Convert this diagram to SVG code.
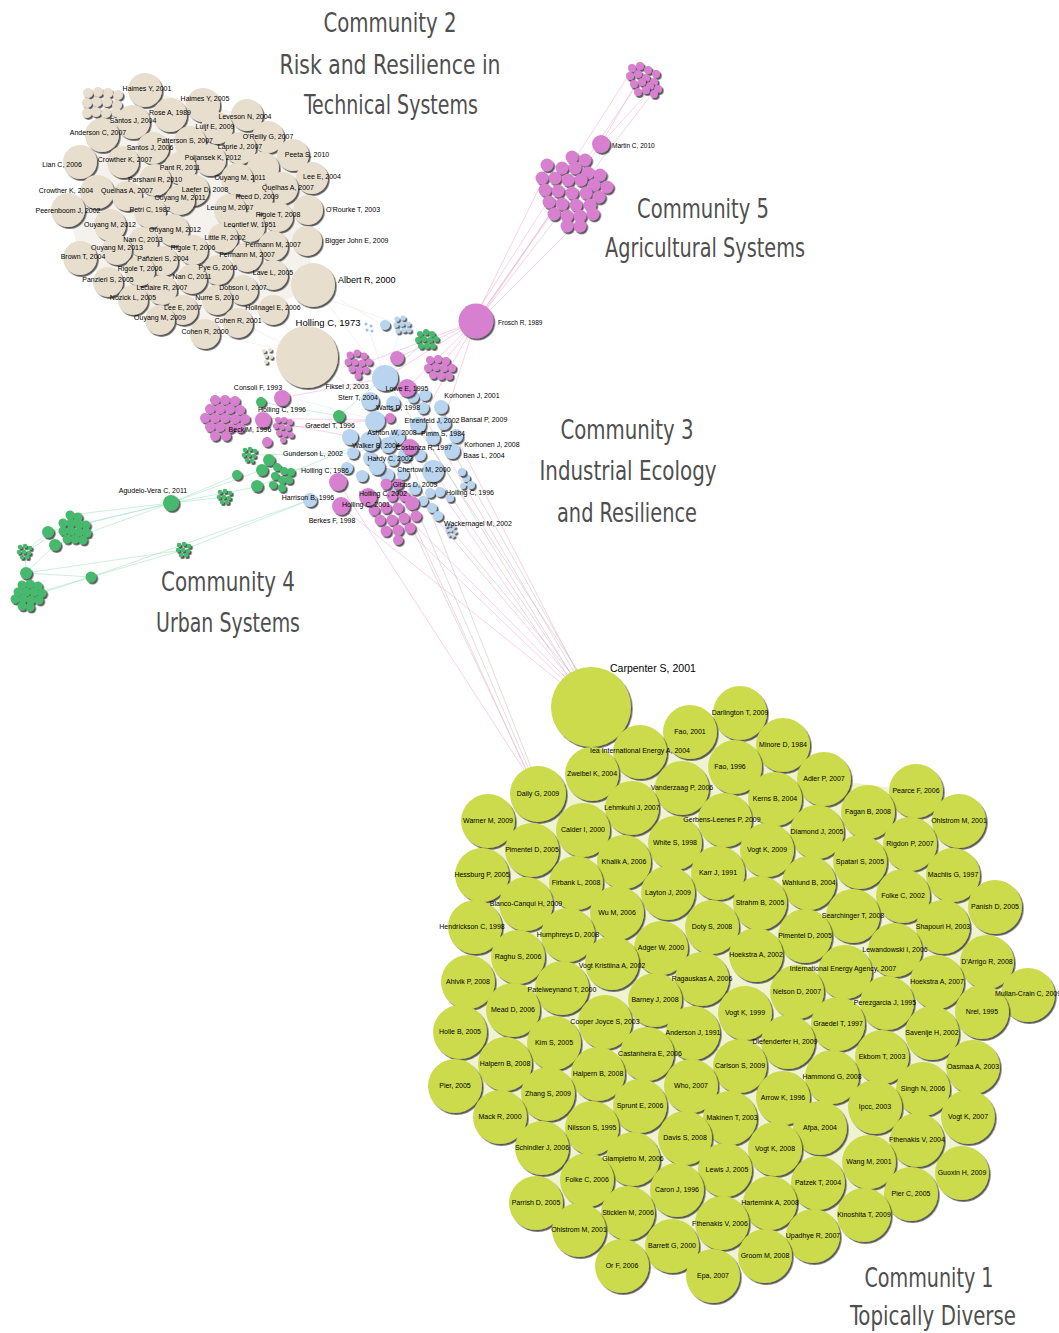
<svg xmlns="http://www.w3.org/2000/svg" width="1059" height="1333" viewBox="0 0 1059 1333">
<defs>
<filter id="sh" x="-30%" y="-30%" width="170%" height="170%"><feDropShadow dx="1.6" dy="1.8" stdDeviation="0.7" flood-color="#3a3a3a" flood-opacity="0.85"/></filter>
<style>
.b{fill:#e8dece;filter:url(#sh)}
.g1{fill:#cbdb4b;filter:url(#sh)}
.bl{fill:#b8d4ef;filter:url(#sh)}
.pk{fill:#d680cf;filter:url(#sh)}
.gr{fill:#47b96e;filter:url(#sh)}
.t{font-family:"Liberation Sans",Arial,sans-serif;font-size:7px;fill:#000;text-anchor:middle}
.tl{font-family:"Liberation Sans",Arial,sans-serif;font-size:7px;fill:#000}
.ti{font-family:"DejaVu Sans Condensed","Liberation Sans Narrow","Open Sans",sans-serif;font-size:27px;fill:#4f4f4f;text-anchor:middle}
.e1{stroke:#eeaad4;stroke-width:0.7;opacity:0.75;fill:none}
.e2{stroke:#c4bcb4;stroke-width:0.7;opacity:0.7;fill:none}
.e3{stroke:#9fe0bd;stroke-width:0.7;opacity:0.75;fill:none}
.e4{stroke:#d9d2c8;stroke-width:0.6;opacity:0.5;fill:none}
.e5{stroke:#c7dcf3;stroke-width:0.6;opacity:0.6;fill:none}
</style>
</defs>
<rect width="1059" height="1333" fill="#ffffff"/>

<!-- faint background webs between packed circles -->
<path d="M145,90 L203,105 L247,115 L268,137 L293,155 L312,178 L308,210 L307,241 L313,285 L273,308 L238,321 L205,334 L160,320 L133,300 L108,282 L80,258 L68,210 L97,192 L80,162 L102,135 L133,122 Z" fill="#f5f2ed"/>
<path d="M640,752 L690,732 L740,713 L783,745 L824,779 L916,791 L959,821 L953,875 L995,907 L987,962 L1028,995 L982,1012 L973,1067 L968,1117 L962,1173 L911,1194 L864,1215 L813,1236 L765,1256 L713,1276 L622,1266 L579,1230 L536,1203 L542,1148 L500,1117 L455,1086 L460,1032 L468,982 L475,927 L482,875 L488,821 L538,794 L592,774 Z" fill="#eff3d2"/>

<g id="edges">
<line class="e1" x1="410" y1="447" x2="575" y2="686"/>
<line class="e1" x1="433" y1="470" x2="578" y2="684"/>
<line class="e1" x1="373" y1="497" x2="572" y2="688"/>
<line class="e1" x1="340" y1="506" x2="570" y2="690"/>
<line class="e1" x1="407" y1="388" x2="580" y2="682"/>
<line class="e1" x1="455" y1="435" x2="582" y2="682"/>
<line class="e1" x1="398" y1="508" x2="574" y2="686"/>
<line class="e1" x1="420" y1="500" x2="576" y2="685"/>
<line class="e2" x1="385" y1="378" x2="584" y2="680"/>
<line class="e2" x1="418" y1="425" x2="577" y2="684"/>
<line class="e2" x1="452" y1="450" x2="583" y2="681"/>
<line class="e2" x1="433" y1="508" x2="579" y2="683"/>
<line class="e2" x1="400" y1="470" x2="530" y2="772"/>
<line class="e2" x1="393" y1="487" x2="528" y2="773"/>
<line class="e2" x1="410" y1="460" x2="532" y2="770"/>
<line class="e1" x1="404" y1="502" x2="527" y2="772"/>
<line class="e1" x1="338" y1="482" x2="526" y2="773"/>
<line class="e1" x1="476" y1="321" x2="601" y2="144"/>
<line class="e1" x1="480" y1="318" x2="640" y2="80"/>
<line class="e1" x1="473" y1="318" x2="632" y2="70"/>
<line class="e1" x1="478" y1="320" x2="655" y2="90"/>
<line class="e1" x1="476" y1="321" x2="560" y2="200"/>
<line class="e1" x1="478" y1="322" x2="590" y2="210"/>
<line class="e1" x1="474" y1="320" x2="548" y2="170"/>
<line class="e1" x1="601" y1="144" x2="638" y2="80"/>
<line class="e1" x1="601" y1="144" x2="650" y2="90"/>
<line class="e1" x1="476" y1="321" x2="385" y2="378"/>
<line class="e1" x1="476" y1="321" x2="397" y2="358"/>
<line class="e1" x1="476" y1="321" x2="418" y2="425"/>
<line class="e1" x1="476" y1="321" x2="440" y2="367"/>
<line class="e1" x1="476" y1="321" x2="407" y2="388"/>
<line class="e1" x1="476" y1="321" x2="443" y2="423"/>
<line class="e1" x1="476" y1="321" x2="360" y2="365"/>
<line class="e4" x1="307" y1="356" x2="313" y2="285"/>
<line class="e4" x1="307" y1="356" x2="273" y2="308"/>
<line class="e4" x1="307" y1="356" x2="238" y2="321"/>
<line class="e4" x1="307" y1="356" x2="205" y2="332"/>
<line class="e4" x1="313" y1="285" x2="385" y2="378"/>
<line class="e4" x1="307" y1="356" x2="385" y2="378"/>
<line class="e4" x1="307" y1="356" x2="370" y2="400"/>
<line class="e4" x1="313" y1="285" x2="273" y2="273"/>
<line class="e4" x1="313" y1="285" x2="307" y2="241"/>
<line class="e4" x1="340" y1="300" x2="385" y2="326"/>
<line class="e4" x1="330" y1="300" x2="402" y2="325"/>
<line class="e5" x1="385" y1="378" x2="402" y2="325"/>
<line class="e5" x1="385" y1="378" x2="368" y2="327"/>
<line class="e5" x1="375" y1="420" x2="300" y2="400"/>
<line class="e1" x1="263" y1="420" x2="370" y2="440"/>
<line class="e1" x1="282" y1="398" x2="385" y2="378"/>
<line class="e1" x1="240" y1="418" x2="370" y2="420"/>
<line class="e1" x1="283" y1="428" x2="375" y2="420"/>
<line class="e1" x1="357" y1="363" x2="385" y2="378"/>
<line class="e3" x1="339" y1="416" x2="427" y2="340"/>
<line class="e3" x1="261" y1="402" x2="339" y2="416"/>
<line class="e3" x1="256" y1="487" x2="370" y2="440"/>
<line class="e3" x1="262" y1="470" x2="347" y2="468"/>
<line class="e3" x1="250" y1="455" x2="353" y2="453"/>
<line class="e3" x1="171" y1="503" x2="80" y2="525"/>
<line class="e3" x1="171" y1="503" x2="70" y2="515"/>
<line class="e3" x1="171" y1="503" x2="55" y2="545"/>
<line class="e3" x1="171" y1="503" x2="48" y2="532"/>
<line class="e3" x1="171" y1="503" x2="225" y2="497"/>
<line class="e3" x1="171" y1="503" x2="256" y2="487"/>
<line class="e3" x1="171" y1="503" x2="237" y2="475"/>
<line class="e3" x1="171" y1="503" x2="262" y2="470"/>
<line class="e3" x1="25" y1="552" x2="48" y2="532"/>
<line class="e3" x1="26" y1="573" x2="25" y2="552"/>
<line class="e3" x1="26" y1="573" x2="91" y2="577"/>
<line class="e3" x1="30" y1="595" x2="91" y2="577"/>
<line class="e3" x1="20" y1="600" x2="91" y2="577"/>
<line class="e3" x1="91" y1="577" x2="183" y2="550"/>
<line class="e3" x1="183" y1="550" x2="310" y2="500"/>
<line class="e3" x1="91" y1="577" x2="310" y2="500"/>
<line class="e3" x1="26" y1="573" x2="183" y2="550"/>
<line class="e3" x1="26" y1="573" x2="60" y2="540"/>
<line class="e3" x1="25" y1="552" x2="70" y2="525"/>
</g>

<g id="nodes">
<!-- Community 2 -->
<g id="c2-smallcluster">
<circle class="b" cx="88" cy="93" r="5"/><circle class="b" cx="98" cy="92" r="5"/><circle class="b" cx="108" cy="93" r="5"/><circle class="b" cx="118" cy="95" r="5"/>
<circle class="b" cx="87" cy="103" r="5"/><circle class="b" cx="97" cy="102" r="5"/><circle class="b" cx="107" cy="102" r="5"/><circle class="b" cx="117" cy="105" r="5"/>
<circle class="b" cx="87" cy="113" r="5"/><circle class="b" cx="96" cy="112" r="5"/><circle class="b" cx="106" cy="113" r="5"/><circle class="b" cx="116" cy="112" r="5"/>
</g>
<g id="c2-haimes2001"><circle class="b" cx="145" cy="90" r="17"/></g>
<g id="c2-haimes2005"><circle class="b" cx="203" cy="105" r="17"/></g>
<g id="c2-leveson"><circle class="b" cx="247" cy="115" r="16"/></g>
<g id="c2-rose"><circle class="b" cx="170" cy="115" r="17"/></g>
<g id="c2-santos2004"><circle class="b" cx="133" cy="122" r="17"/></g>
<g id="c2-luijf"><circle class="b" cx="217" cy="128" r="16"/></g>
<g id="c2-anderson"><circle class="b" cx="102" cy="135" r="17"/></g>
<g id="c2-oreilly"><circle class="b" cx="268" cy="137" r="16"/></g>
<g id="c2-patterson"><circle class="b" cx="190" cy="142" r="16"/></g>
<g id="c2-laprie"><circle class="b" cx="240" cy="148" r="16"/></g>
<g id="c2-santos2006"><circle class="b" cx="153" cy="148" r="16"/></g>
<g id="c2-peeta"><circle class="b" cx="293" cy="155" r="16"/></g>
<g id="c2-fill1"><circle class="b" cx="263" cy="168" r="16"/></g>
<g id="c2-lian"><circle class="b" cx="80" cy="162" r="17"/></g>
<g id="c2-crowther2007"><circle class="b" cx="123" cy="162" r="16"/></g>
<g id="c2-poljansek"><circle class="b" cx="210" cy="160" r="16"/></g>
<g id="c2-pant"><circle class="b" cx="180" cy="168" r="16"/></g>
<g id="c2-leee2004"><circle class="b" cx="312" cy="178" r="16"/></g>
<g id="c2-ouyang2011a"><circle class="b" cx="237" cy="179" r="16"/></g>
<g id="c2-parshani"><circle class="b" cx="155" cy="180" r="16"/></g>
<g id="c2-quelhas2"><circle class="b" cx="282" cy="188" r="16"/></g>
<g id="c2-crowther2004"><circle class="b" cx="97" cy="192" r="17"/></g>
<g id="c2-quelhas1"><circle class="b" cx="127" cy="196" r="15"/></g>
<g id="c2-laefer"><circle class="b" cx="193" cy="190" r="16"/></g>
<g id="c2-ouyang2011b"><circle class="b" cx="180" cy="200" r="15"/></g>
<g id="c2-reed"><circle class="b" cx="257" cy="198" r="16"/></g>
<g id="c2-orourke"><circle class="b" cx="308" cy="210" r="15"/></g>
<g id="c2-peerenboom"><circle class="b" cx="68" cy="210" r="17"/></g>
<g id="c2-petri"><circle class="b" cx="150" cy="212" r="16"/></g>
<g id="c2-leung"><circle class="b" cx="230" cy="210" r="16"/></g>
<g id="c2-rigole2008"><circle class="b" cx="278" cy="217" r="15"/></g>
<g id="c2-ouyang2012a"><circle class="b" cx="110" cy="225" r="16"/></g>
<g id="c2-leontief"><circle class="b" cx="250" cy="227" r="15"/></g>
<g id="c2-ouyang2012b"><circle class="b" cx="173" cy="230" r="16"/></g>
<g id="c2-little"><circle class="b" cx="223" cy="238" r="15"/></g>
<g id="c2-nan2013"><circle class="b" cx="143" cy="242" r="15"/></g>
<g id="c2-bigger"><circle class="b" cx="307" cy="241" r="15"/></g>
<g id="c2-permann1"><circle class="b" cx="273" cy="246" r="15"/></g>
<g id="c2-ouyang2013"><circle class="b" cx="117" cy="250" r="15"/></g>
<g id="c2-rigole2006a"><circle class="b" cx="193" cy="250" r="15"/></g>
<g id="c2-brown"><circle class="b" cx="80" cy="258" r="17"/></g>
<g id="c2-permann2"><circle class="b" cx="247" cy="257" r="15"/></g>
<g id="c2-panzieri2004"><circle class="b" cx="163" cy="261" r="15"/></g>
<g id="c2-pye"><circle class="b" cx="218" cy="270" r="15"/></g>
<g id="c2-rigole2006b"><circle class="b" cx="140" cy="271" r="15"/></g>
<g id="c2-lave"><circle class="b" cx="273" cy="275" r="15"/></g>
<g id="c2-nan2011"><circle class="b" cx="192" cy="279" r="15"/></g>
<g id="c2-panzieri2005"><circle class="b" cx="108" cy="282" r="15"/></g>
<g id="c2-albert"><circle class="b" cx="313" cy="285" r="22"/></g>
<g id="c2-dobson"><circle class="b" cx="243" cy="290" r="15"/></g>
<g id="c2-leclaire"><circle class="b" cx="162" cy="290" r="15"/></g>
<g id="c2-nurre"><circle class="b" cx="217" cy="300" r="15"/></g>
<g id="c2-nozick"><circle class="b" cx="133" cy="300" r="15"/></g>
<g id="c2-hollnagel"><circle class="b" cx="273" cy="310" r="15"/></g>
<g id="c2-leee2007"><circle class="b" cx="183" cy="310" r="15"/></g>
<g id="c2-ouyang2009"><circle class="b" cx="160" cy="320" r="15"/></g>
<g id="c2-cohen2001"><circle class="b" cx="238" cy="323" r="15"/></g>
<g id="c2-cohen2000"><circle class="b" cx="205" cy="334" r="15"/></g>
<g id="c2-holling1973"><circle class="b" cx="307" cy="357" r="31"/></g>
<g id="c2-tinydots"><circle class="b" cx="264" cy="351" r="2"/><circle class="b" cx="270" cy="350" r="2"/><circle class="b" cx="266" cy="356" r="2"/><circle class="b" cx="271" cy="357" r="2"/><circle class="b" cx="266" cy="362" r="2"/></g>

<!-- Community 5 -->
<g id="c5-topcluster">
<circle class="pk" cx="632" cy="68" r="4"/><circle class="pk" cx="640" cy="66" r="4"/><circle class="pk" cx="648" cy="70" r="4"/><circle class="pk" cx="656" cy="74" r="4"/>
<circle class="pk" cx="630" cy="76" r="4"/><circle class="pk" cx="638" cy="74" r="4"/><circle class="pk" cx="646" cy="78" r="4"/><circle class="pk" cx="654" cy="82" r="4"/>
<circle class="pk" cx="634" cy="84" r="4"/><circle class="pk" cx="642" cy="82" r="4"/><circle class="pk" cx="650" cy="86" r="4"/><circle class="pk" cx="658" cy="89" r="4"/>
<circle class="pk" cx="638" cy="92" r="4"/><circle class="pk" cx="646" cy="90" r="4"/><circle class="pk" cx="654" cy="94" r="4"/>
</g>
<g id="c5-martin"><circle class="pk" cx="601" cy="144" r="9"/></g>
<g id="c5-cluster">
<circle class="pk" cx="572" cy="157" r="6.5"/><circle class="pk" cx="585" cy="160" r="6.5"/>
<circle class="pk" cx="547" cy="165" r="6.5"/><circle class="pk" cx="562" cy="168" r="6.5"/><circle class="pk" cx="575" cy="168" r="6.5"/><circle class="pk" cx="588" cy="173" r="6.5"/><circle class="pk" cx="600" cy="175" r="6.5"/>
<circle class="pk" cx="542" cy="178" r="6.5"/><circle class="pk" cx="555" cy="178" r="6.5"/><circle class="pk" cx="568" cy="180" r="6.5"/><circle class="pk" cx="581" cy="180" r="6.5"/><circle class="pk" cx="594" cy="185" r="6.5"/><circle class="pk" cx="607" cy="187" r="6.5"/>
<circle class="pk" cx="545" cy="190" r="6.5"/><circle class="pk" cx="558" cy="191" r="6.5"/><circle class="pk" cx="572" cy="193" r="6.5"/><circle class="pk" cx="586" cy="193" r="6.5"/><circle class="pk" cx="599" cy="197" r="6.5"/>
<circle class="pk" cx="549" cy="202" r="6.5"/><circle class="pk" cx="562" cy="204" r="6.5"/><circle class="pk" cx="576" cy="205" r="6.5"/><circle class="pk" cx="590" cy="205" r="6.5"/>
<circle class="pk" cx="554" cy="214" r="6.5"/><circle class="pk" cx="567" cy="216" r="6.5"/><circle class="pk" cx="580" cy="216" r="6.5"/><circle class="pk" cx="593" cy="214" r="6.5"/>
<circle class="pk" cx="567" cy="226" r="6.5"/><circle class="pk" cx="580" cy="226" r="6.5"/>
</g>
<g id="c5-frosch"><circle class="pk" cx="476" cy="321" r="17.5"/></g>

<!-- Community 3 area -->
<g id="c3-tinydots"><circle cx="366" cy="324" r="1.5" fill="#9cbfe6"/><circle cx="371" cy="326" r="1.5" fill="#9cbfe6"/><circle cx="367" cy="330" r="1.5" fill="#9cbfe6"/><circle cx="372" cy="331" r="1.5" fill="#9cbfe6"/></g>
<g id="c3-blue-a"><circle class="bl" cx="385" cy="325" r="5"/></g>
<g id="c3-bluecluster"><circle class="bl" cx="397" cy="319" r="2.6"/><circle class="bl" cx="403" cy="318" r="2.6"/><circle class="bl" cx="396" cy="325" r="2.6"/><circle class="bl" cx="402" cy="324" r="2.6"/><circle class="bl" cx="408" cy="324" r="2.6"/><circle class="bl" cx="398" cy="331" r="2.6"/><circle class="bl" cx="404" cy="330" r="2.6"/><circle class="bl" cx="409" cy="330" r="2.6"/></g>
<g id="c3-greencluster"><circle class="gr" cx="420" cy="334" r="3"/><circle class="gr" cx="426" cy="332" r="3"/><circle class="gr" cx="432" cy="334" r="3"/><circle class="gr" cx="418" cy="340" r="3"/><circle class="gr" cx="424" cy="339" r="3"/><circle class="gr" cx="430" cy="340" r="3"/><circle class="gr" cx="436" cy="339" r="3"/><circle class="gr" cx="421" cy="346" r="3"/><circle class="gr" cx="427" cy="346" r="3"/><circle class="gr" cx="433" cy="346" r="3"/></g>
<g id="c3-pinkcluster-a"><circle class="pk" cx="350" cy="355" r="3.5"/><circle class="pk" cx="357" cy="353" r="3.5"/><circle class="pk" cx="364" cy="356" r="3.5"/><circle class="pk" cx="348" cy="362" r="3.5"/><circle class="pk" cx="355" cy="362" r="3.5"/><circle class="pk" cx="362" cy="363" r="3.5"/><circle class="pk" cx="369" cy="362" r="3.5"/><circle class="pk" cx="352" cy="369" r="3.5"/><circle class="pk" cx="359" cy="370" r="3.5"/><circle class="pk" cx="366" cy="370" r="3.5"/><circle class="pk" cx="358" cy="376" r="3.5"/></g>
<g id="c3-pink-b"><circle class="pk" cx="397" cy="358" r="7"/></g>
<g id="c3-pinkcluster-c"><circle class="pk" cx="430" cy="360" r="4"/><circle class="pk" cx="438" cy="359" r="4"/><circle class="pk" cx="446" cy="361" r="4"/><circle class="pk" cx="428" cy="368" r="4"/><circle class="pk" cx="436" cy="367" r="4"/><circle class="pk" cx="444" cy="368" r="4"/><circle class="pk" cx="452" cy="368" r="4"/><circle class="pk" cx="433" cy="375" r="4"/><circle class="pk" cx="441" cy="376" r="4"/><circle class="pk" cx="449" cy="376" r="4"/></g>
<g id="c3-extra-blue">
<circle class="bl" cx="413" cy="397" r="6"/><circle class="bl" cx="425" cy="395" r="6"/><circle class="bl" cx="423" cy="408" r="6"/>
<circle class="bl" cx="433" cy="438" r="7"/><circle class="bl" cx="397" cy="437" r="8"/><circle class="bl" cx="350" cy="437" r="8"/>
<circle class="bl" cx="388" cy="445" r="8"/><circle class="bl" cx="405" cy="455" r="7"/><circle class="bl" cx="420" cy="455" r="6"/>
<circle class="bl" cx="393" cy="460" r="6"/><circle class="bl" cx="370" cy="458" r="7"/><circle class="bl" cx="347" cy="468" r="6"/>
<circle class="bl" cx="362" cy="476" r="6"/><circle class="bl" cx="387" cy="475" r="7"/><circle class="bl" cx="403" cy="474" r="6"/>
<circle class="bl" cx="393" cy="488" r="6"/><circle class="bl" cx="430" cy="493" r="5"/><circle class="bl" cx="440" cy="492" r="5"/>
<circle class="bl" cx="423" cy="501" r="5"/><circle class="bl" cx="432" cy="508" r="5"/><circle class="bl" cx="438" cy="516" r="5"/>
<circle class="bl" cx="466" cy="478" r="4"/><circle class="bl" cx="471" cy="485" r="4"/><circle class="bl" cx="463" cy="486" r="3"/>
</g>
<g id="c3-fiksel"><circle class="bl" cx="385" cy="378" r="13"/></g>
<g id="c3-lowe"><circle class="pk" cx="407" cy="388" r="9"/></g>
<g id="c3-sterr"><circle class="bl" cx="370" cy="401" r="9"/></g>
<g id="c3-watts"><circle class="bl" cx="393" cy="403" r="7"/></g>
<g id="c3-korhonen2001"><circle class="bl" cx="441" cy="407" r="7"/></g>
<g id="c3-pinksmall"><circle class="pk" cx="390" cy="418" r="5"/></g>
<g id="c3-ashton"><circle class="bl" cx="375" cy="421" r="10"/></g>
<g id="c3-ehrenfeld"><circle class="bl" cx="418" cy="425" r="8"/></g>
<g id="c3-pimm"><circle class="bl" cx="444" cy="423" r="7"/></g>
<g id="c3-bansal"><circle class="bl" cx="456" cy="436" r="7"/></g>
<g id="c3-walker"><circle class="bl" cx="370" cy="441" r="10"/></g>
<g id="c3-costanza"><circle class="pk" cx="410" cy="447" r="8"/></g>
<g id="c3-korhonen2008"><circle class="bl" cx="452" cy="451" r="8"/></g>
<g id="c3-gunderson"><circle class="bl" cx="353" cy="453" r="6"/></g>
<g id="c3-baas"><circle class="bl" cx="462" cy="472" r="4"/></g>
<g id="c3-hardy"><circle class="bl" cx="377" cy="467" r="8"/></g>
<g id="c3-chertow"><circle class="bl" cx="433" cy="471" r="11"/></g>
<g id="c3-holling1986"><circle class="pk" cx="338" cy="482" r="9"/></g>
<g id="c3-gibbs"><circle class="bl" cx="415" cy="489" r="6"/></g>
<g id="c3-holling1996b"><circle class="bl" cx="450" cy="498" r="4"/></g>
<g id="c3-harrison"><circle class="bl" cx="310" cy="500" r="7"/></g>
<g id="c3-pinkcluster-bottom">
<circle class="pk" cx="386" cy="484" r="5.5"/><circle class="pk" cx="398" cy="484" r="5.5"/>
<circle class="pk" cx="392" cy="496" r="5.5"/><circle class="pk" cx="404" cy="496" r="5.5"/><circle class="pk" cx="412" cy="503" r="7"/>
<circle class="pk" cx="374" cy="510" r="5.5"/><circle class="pk" cx="386" cy="508" r="5.5"/><circle class="pk" cx="398" cy="508" r="5.5"/>
<circle class="pk" cx="380" cy="520" r="5.5"/><circle class="pk" cx="392" cy="520" r="5.5"/><circle class="pk" cx="404" cy="518" r="5.5"/><circle class="pk" cx="416" cy="516" r="5.5"/>
<circle class="pk" cx="386" cy="531" r="5.5"/><circle class="pk" cx="398" cy="530" r="5.5"/><circle class="pk" cx="410" cy="528" r="5.5"/>
<circle class="pk" cx="398" cy="540" r="5"/>
</g>
<g id="c3-holling2002"><circle class="pk" cx="368" cy="497" r="9"/></g>
<g id="c3-holling2001"><circle class="pk" cx="341" cy="506" r="9"/></g>
<g id="c3-wackernagel"><circle class="bl" cx="446" cy="526" r="1.8"/><circle class="bl" cx="450" cy="525" r="1.8"/><circle class="bl" cx="454" cy="527" r="1.8"/><circle class="bl" cx="447" cy="531" r="1.8"/><circle class="bl" cx="451" cy="530" r="1.8"/><circle class="bl" cx="455" cy="532" r="1.8"/><circle class="bl" cx="449" cy="535" r="1.8"/><circle class="bl" cx="453" cy="536" r="1.8"/></g>
<g id="c3-consoli"><circle class="pk" cx="282" cy="398" r="8"/></g>
<g id="c4-green-a"><circle class="gr" cx="261" cy="402" r="5"/></g>
<g id="c3-graedel1996"><circle class="gr" cx="339" cy="416" r="6"/></g>
<g id="c5-pinkcluster-left">
<circle class="pk" cx="215" cy="400" r="5"/><circle class="pk" cx="225" cy="400" r="5"/><circle class="pk" cx="235" cy="401" r="5"/>
<circle class="pk" cx="210" cy="409" r="5"/><circle class="pk" cx="220" cy="409" r="5"/><circle class="pk" cx="230" cy="409" r="5"/><circle class="pk" cx="240" cy="410" r="5"/>
<circle class="pk" cx="205" cy="418" r="5"/><circle class="pk" cx="215" cy="418" r="5"/><circle class="pk" cx="225" cy="418" r="5"/><circle class="pk" cx="235" cy="419" r="5"/><circle class="pk" cx="245" cy="419" r="5"/>
<circle class="pk" cx="210" cy="427" r="5"/><circle class="pk" cx="220" cy="427" r="5"/><circle class="pk" cx="230" cy="428" r="5"/><circle class="pk" cx="240" cy="428" r="5"/>
<circle class="pk" cx="215" cy="436" r="5"/><circle class="pk" cx="226" cy="436" r="5"/>
</g>
<g id="c5-holling1996"><circle class="pk" cx="263" cy="420" r="8"/></g>
<g id="c5-pinkcluster-small"><circle class="pk" cx="278" cy="420" r="3"/><circle class="pk" cx="284" cy="420" r="3"/><circle class="pk" cx="290" cy="422" r="3"/><circle class="pk" cx="276" cy="426" r="3"/><circle class="pk" cx="282" cy="427" r="3"/><circle class="pk" cx="288" cy="428" r="3"/><circle class="pk" cx="279" cy="433" r="3"/><circle class="pk" cx="285" cy="434" r="3"/><circle class="pk" cx="291" cy="435" r="3"/><circle class="pk" cx="283" cy="440" r="3"/></g>
<g id="c5-pink-d"><circle class="pk" cx="267" cy="442" r="5"/></g>

<!-- Community 4 -->
<g id="c4-dots-a"><circle class="gr" cx="245" cy="450" r="2.3"/><circle class="gr" cx="250" cy="449" r="2.3"/><circle class="gr" cx="255" cy="451" r="2.3"/><circle class="gr" cx="244" cy="455" r="2.3"/><circle class="gr" cx="249" cy="455" r="2.3"/><circle class="gr" cx="254" cy="456" r="2.3"/><circle class="gr" cx="247" cy="460" r="2.3"/><circle class="gr" cx="252" cy="461" r="2.3"/></g>
<g id="c4-cluster-b">
<circle class="gr" cx="269" cy="460" r="6"/><circle class="gr" cx="262" cy="470" r="6"/><circle class="gr" cx="257" cy="486" r="6"/><circle class="gr" cx="237" cy="475" r="5"/>
<circle class="gr" cx="277" cy="467" r="4"/><circle class="gr" cx="284" cy="471" r="4"/><circle class="gr" cx="291" cy="472" r="4"/><circle class="gr" cx="275" cy="476" r="4"/><circle class="gr" cx="282" cy="480" r="4"/><circle class="gr" cx="289" cy="480" r="4"/><circle class="gr" cx="273" cy="485" r="4"/><circle class="gr" cx="282" cy="488" r="4"/>
</g>
<g id="c4-dots-b"><circle class="gr" cx="220" cy="492" r="2.3"/><circle class="gr" cx="225" cy="491" r="2.3"/><circle class="gr" cx="230" cy="493" r="2.3"/><circle class="gr" cx="219" cy="497" r="2.3"/><circle class="gr" cx="224" cy="497" r="2.3"/><circle class="gr" cx="229" cy="498" r="2.3"/><circle class="gr" cx="222" cy="502" r="2.3"/><circle class="gr" cx="227" cy="502" r="2.3"/></g>
<g id="c4-agudelo"><circle class="gr" cx="171" cy="503" r="8"/></g>
<g id="c4-cluster-c">
<circle class="gr" cx="48" cy="532" r="6"/><circle class="gr" cx="55" cy="545" r="6"/>
<circle class="gr" cx="70" cy="515" r="4.5"/><circle class="gr" cx="78" cy="517" r="4.5"/>
<circle class="gr" cx="63" cy="523" r="4.5"/><circle class="gr" cx="71" cy="523" r="4.5"/><circle class="gr" cx="79" cy="524" r="4.5"/><circle class="gr" cx="86" cy="525" r="4.5"/>
<circle class="gr" cx="63" cy="531" r="4.5"/><circle class="gr" cx="71" cy="531" r="4.5"/><circle class="gr" cx="79" cy="532" r="4.5"/><circle class="gr" cx="87" cy="533" r="4.5"/>
<circle class="gr" cx="67" cy="539" r="4.5"/><circle class="gr" cx="75" cy="539" r="4.5"/><circle class="gr" cx="83" cy="540" r="4.5"/>
</g>
<g id="c4-dots-c"><circle class="gr" cx="20" cy="547" r="2.3"/><circle class="gr" cx="25" cy="546" r="2.3"/><circle class="gr" cx="30" cy="548" r="2.3"/><circle class="gr" cx="19" cy="552" r="2.3"/><circle class="gr" cx="24" cy="552" r="2.3"/><circle class="gr" cx="29" cy="553" r="2.3"/><circle class="gr" cx="22" cy="557" r="2.3"/><circle class="gr" cx="27" cy="557" r="2.3"/></g>
<g id="c4-dots-d"><circle class="gr" cx="179" cy="545" r="2.3"/><circle class="gr" cx="184" cy="544" r="2.3"/><circle class="gr" cx="189" cy="546" r="2.3"/><circle class="gr" cx="178" cy="550" r="2.3"/><circle class="gr" cx="183" cy="550" r="2.3"/><circle class="gr" cx="188" cy="551" r="2.3"/><circle class="gr" cx="181" cy="555" r="2.3"/><circle class="gr" cx="186" cy="555" r="2.3"/></g>
<g id="c4-green-e"><circle class="gr" cx="26" cy="573" r="6"/></g>
<g id="c4-green-f"><circle class="gr" cx="91" cy="577" r="5.5"/></g>
<g id="c4-cluster-d">
<circle class="gr" cx="22" cy="585" r="4.5"/><circle class="gr" cx="30" cy="584" r="4.5"/><circle class="gr" cx="38" cy="586" r="4.5"/>
<circle class="gr" cx="18" cy="592" r="4.5"/><circle class="gr" cx="26" cy="592" r="4.5"/><circle class="gr" cx="34" cy="592" r="4.5"/><circle class="gr" cx="42" cy="593" r="4.5"/>
<circle class="gr" cx="15" cy="599" r="4.5"/><circle class="gr" cx="23" cy="599" r="4.5"/><circle class="gr" cx="31" cy="600" r="4.5"/><circle class="gr" cx="39" cy="600" r="4.5"/>
<circle class="gr" cx="22" cy="606" r="4.5"/><circle class="gr" cx="30" cy="607" r="4.5"/>
</g>

<!-- Community 1 -->
<g id="c1-carpenter"><circle class="g1" cx="591" cy="707" r="40"/></g>
<g id="c1-darlington"><circle class="g1" cx="740" cy="713" r="27"/></g>
<g id="c1-fao2001"><circle class="g1" cx="690" cy="732" r="27"/></g>
<g id="c1-minore"><circle class="g1" cx="783" cy="745" r="27"/></g>
<g id="c1-iea2004"><circle class="g1" cx="640" cy="752" r="27"/></g>
<g id="c1-fao1996"><circle class="g1" cx="735" cy="767" r="27"/></g>
<g id="c1-zweibel"><circle class="g1" cx="592" cy="774" r="27"/></g>
<g id="c1-adler"><circle class="g1" cx="824" cy="779" r="27"/></g>
<g id="c1-vanderzaag"><circle class="g1" cx="682" cy="788" r="27"/></g>
<g id="c1-pearce"><circle class="g1" cx="916" cy="791" r="27"/></g>
<g id="c1-daily"><circle class="g1" cx="538" cy="794" r="28"/></g>
<g id="c1-kerns"><circle class="g1" cx="775" cy="799" r="27"/></g>
<g id="c1-lehmkuhl"><circle class="g1" cx="632" cy="808" r="27"/></g>
<g id="c1-fagan"><circle class="g1" cx="868" cy="812" r="27"/></g>
<g id="c1-gerbens"><circle class="g1" cx="725" cy="820" r="27"/></g>
<g id="c1-warner"><circle class="g1" cx="488" cy="821" r="27"/></g>
<g id="c1-ohlstrom1"><circle class="g1" cx="959" cy="821" r="27"/></g>
<g id="c1-calder"><circle class="g1" cx="583" cy="830" r="27"/></g>
<g id="c1-diamond"><circle class="g1" cx="817" cy="832" r="27"/></g>
<g id="c1-white"><circle class="g1" cx="675" cy="843" r="27"/></g>
<g id="c1-rigdon"><circle class="g1" cx="910" cy="844" r="27"/></g>
<g id="c1-pimentel1"><circle class="g1" cx="532" cy="850" r="27"/></g>
<g id="c1-vogt2009"><circle class="g1" cx="767" cy="850" r="27"/></g>
<g id="c1-khalik"><circle class="g1" cx="624" cy="862" r="27"/></g>
<g id="c1-spatari"><circle class="g1" cx="860" cy="862" r="27"/></g>
<g id="c1-karr"><circle class="g1" cx="718" cy="873" r="27"/></g>
<g id="c1-hessburg"><circle class="g1" cx="482" cy="875" r="27"/></g>
<g id="c1-machlis"><circle class="g1" cx="953" cy="875" r="27"/></g>
<g id="c1-firbank"><circle class="g1" cx="576" cy="883" r="27"/></g>
<g id="c1-wahlund"><circle class="g1" cx="809" cy="883" r="27"/></g>
<g id="c1-layton"><circle class="g1" cx="668" cy="893" r="27"/></g>
<g id="c1-folke2002"><circle class="g1" cx="903" cy="896" r="27"/></g>
<g id="c1-strahm"><circle class="g1" cx="760" cy="903" r="27"/></g>
<g id="c1-blanco"><circle class="g1" cx="526" cy="904" r="27"/></g>
<g id="c1-panish"><circle class="g1" cx="995" cy="907" r="27"/></g>
<g id="c1-wu"><circle class="g1" cx="617" cy="913" r="27"/></g>
<g id="c1-searchinger"><circle class="g1" cx="853" cy="916" r="27"/></g>
<g id="c1-doty"><circle class="g1" cx="712" cy="927" r="27"/></g>
<g id="c1-hendrickson"><circle class="g1" cx="475" cy="927" r="27"/></g>
<g id="c1-shapouri"><circle class="g1" cx="943" cy="927" r="27"/></g>
<g id="c1-humphreys"><circle class="g1" cx="568" cy="935" r="27"/></g>
<g id="c1-pimentel2"><circle class="g1" cx="805" cy="936" r="27"/></g>
<g id="c1-adger"><circle class="g1" cx="661" cy="948" r="27"/></g>
<g id="c1-lewandowski"><circle class="g1" cx="895" cy="950" r="27"/></g>
<g id="c1-hoekstra2002"><circle class="g1" cx="756" cy="955" r="27"/></g>
<g id="c1-raghu"><circle class="g1" cx="518" cy="957" r="27"/></g>
<g id="c1-darrigo"><circle class="g1" cx="987" cy="962" r="27"/></g>
<g id="c1-vogtkristiina"><circle class="g1" cx="612" cy="963" r="27"/></g>
<g id="c1-iea2007"><circle class="g1" cx="845" cy="972" r="27"/></g>
<g id="c1-ragauskas"><circle class="g1" cx="702" cy="979" r="27"/></g>
<g id="c1-ahlvik"><circle class="g1" cx="468" cy="982" r="27"/></g>
<g id="c1-hoekstra2007"><circle class="g1" cx="937" cy="982" r="27"/></g>
<g id="c1-patelweynand"><circle class="g1" cx="562" cy="988" r="27"/></g>
<g id="c1-nelson"><circle class="g1" cx="797" cy="992" r="27"/></g>
<g id="c1-mullan"><circle class="g1" cx="1028" cy="995" r="27"/></g>
<g id="c1-barney"><circle class="g1" cx="655" cy="1000" r="27"/></g>
<g id="c1-perezgarcia"><circle class="g1" cx="887" cy="1003" r="27"/></g>
<g id="c1-mead"><circle class="g1" cx="513" cy="1010" r="27"/></g>
<g id="c1-nrel"><circle class="g1" cx="982" cy="1012" r="27"/></g>
<g id="c1-vogt1999"><circle class="g1" cx="745" cy="1013" r="27"/></g>
<g id="c1-cooper"><circle class="g1" cx="605" cy="1022" r="27"/></g>
<g id="c1-graedel1997"><circle class="g1" cx="838" cy="1024" r="27"/></g>
<g id="c1-holle"><circle class="g1" cx="460" cy="1032" r="27"/></g>
<g id="c1-savenije"><circle class="g1" cx="932" cy="1033" r="27"/></g>
<g id="c1-anderson"><circle class="g1" cx="693" cy="1033" r="27"/></g>
<g id="c1-diefenderfer"><circle class="g1" cx="788" cy="1042" r="27"/></g>
<g id="c1-kim"><circle class="g1" cx="554" cy="1043" r="27"/></g>
<g id="c1-castanheira"><circle class="g1" cx="647" cy="1054" r="27"/></g>
<g id="c1-ekbom"><circle class="g1" cx="882" cy="1057" r="27"/></g>
<g id="c1-halpern1"><circle class="g1" cx="505" cy="1064" r="27"/></g>
<g id="c1-carlson"><circle class="g1" cx="740" cy="1066" r="27"/></g>
<g id="c1-oasmaa"><circle class="g1" cx="973" cy="1067" r="27"/></g>
<g id="c1-halpern2"><circle class="g1" cx="598" cy="1074" r="27"/></g>
<g id="c1-hammond"><circle class="g1" cx="832" cy="1077" r="27"/></g>
<g id="c1-pier"><circle class="g1" cx="455" cy="1086" r="27"/></g>
<g id="c1-who"><circle class="g1" cx="691" cy="1086" r="27"/></g>
<g id="c1-singh"><circle class="g1" cx="923" cy="1089" r="27"/></g>
<g id="c1-zhang"><circle class="g1" cx="548" cy="1094" r="27"/></g>
<g id="c1-arrow"><circle class="g1" cx="783" cy="1098" r="27"/></g>
<g id="c1-sprunt"><circle class="g1" cx="640" cy="1106" r="27"/></g>
<g id="c1-ipcc"><circle class="g1" cx="875" cy="1107" r="27"/></g>
<g id="c1-mack"><circle class="g1" cx="500" cy="1117" r="27"/></g>
<g id="c1-vogt2007"><circle class="g1" cx="968" cy="1117" r="27"/></g>
<g id="c1-makinen"><circle class="g1" cx="730" cy="1118" r="27"/></g>
<g id="c1-afpa"><circle class="g1" cx="820" cy="1128" r="27"/></g>
<g id="c1-nilsson"><circle class="g1" cx="592" cy="1128" r="27"/></g>
<g id="c1-davis"><circle class="g1" cx="685" cy="1138" r="27"/></g>
<g id="c1-fthenakis2004"><circle class="g1" cx="917" cy="1140" r="27"/></g>
<g id="c1-schindler"><circle class="g1" cx="542" cy="1148" r="27"/></g>
<g id="c1-vogt2008"><circle class="g1" cx="775" cy="1149" r="27"/></g>
<g id="c1-giampietro"><circle class="g1" cx="633" cy="1159" r="27"/></g>
<g id="c1-wang"><circle class="g1" cx="869" cy="1162" r="27"/></g>
<g id="c1-lewis"><circle class="g1" cx="725" cy="1170" r="27"/></g>
<g id="c1-guoxin"><circle class="g1" cx="962" cy="1173" r="27"/></g>
<g id="c1-folke2006"><circle class="g1" cx="587" cy="1180" r="27"/></g>
<g id="c1-patzek"><circle class="g1" cx="818" cy="1183" r="27"/></g>
<g id="c1-caron"><circle class="g1" cx="677" cy="1190" r="27"/></g>
<g id="c1-pierc"><circle class="g1" cx="911" cy="1194" r="27"/></g>
<g id="c1-parrish"><circle class="g1" cx="536" cy="1203" r="27"/></g>
<g id="c1-hartemink"><circle class="g1" cx="770" cy="1203" r="27"/></g>
<g id="c1-sticklen"><circle class="g1" cx="628" cy="1213" r="27"/></g>
<g id="c1-kinoshita"><circle class="g1" cx="864" cy="1215" r="27"/></g>
<g id="c1-fthenakis2006"><circle class="g1" cx="722" cy="1223" r="27"/></g>
<g id="c1-ohlstrom2"><circle class="g1" cx="579" cy="1230" r="27"/></g>
<g id="c1-upadhye"><circle class="g1" cx="813" cy="1236" r="27"/></g>
<g id="c1-barrett"><circle class="g1" cx="672" cy="1246" r="27"/></g>
<g id="c1-groom"><circle class="g1" cx="765" cy="1256" r="27"/></g>
<g id="c1-orf"><circle class="g1" cx="622" cy="1266" r="27"/></g>
<g id="c1-epa"><circle class="g1" cx="713" cy="1276" r="27"/></g>
</g>

<g id="labels">
<text class="t" x="147" y="91">Haimes Y, 2001</text>
<text class="t" x="205" y="101">Haimes Y, 2005</text>
<text class="t" x="245" y="119">Leveson N, 2004</text>
<text class="t" x="170" y="115">Rose A, 1989</text>
<text class="t" x="133" y="123">Santos J, 2004</text>
<text class="t" x="215" y="129">Luijf E, 2009</text>
<text class="t" x="98" y="135">Anderson C, 2007</text>
<text class="t" x="268" y="139">O'Reilly G, 2007</text>
<text class="t" x="185" y="143">Patterson S, 2007</text>
<text class="t" x="240" y="149">Laprie J, 2007</text>
<text class="t" x="150" y="150">Santos J, 2006</text>
<text class="t" x="307" y="157">Peeta S, 2010</text>
<text class="t" x="62" y="167">Lian C, 2006</text>
<text class="t" x="125" y="162">Crowther K, 2007</text>
<text class="t" x="213" y="160">Poljansek K, 2012</text>
<text class="t" x="180" y="170">Pant R, 2011</text>
<text class="t" x="322" y="179">Lee E, 2004</text>
<text class="t" x="240" y="180">Ouyang M, 2011</text>
<text class="t" x="155" y="182">Parshani R, 2010</text>
<text class="t" x="288" y="190">Quelhas A, 2007</text>
<text class="t" x="66" y="193">Crowther K, 2004</text>
<text class="t" x="127" y="193">Quelhas A, 2007</text>
<text class="t" x="205" y="192">Laefer D, 2008</text>
<text class="t" x="180" y="200">Ouyang M, 2011</text>
<text class="t" x="257" y="199">Reed D, 2009</text>
<text class="t" x="353" y="212">O'Rourke T, 2003</text>
<text class="t" x="68" y="213">Peerenboom J, 2002</text>
<text class="t" x="150" y="212">Petri C, 1982</text>
<text class="t" x="230" y="210">Leung M, 2007</text>
<text class="t" x="278" y="217">Rigole T, 2008</text>
<text class="t" x="110" y="227">Ouyang M, 2012</text>
<text class="t" x="250" y="227">Leontief W, 1951</text>
<text class="t" x="175" y="232">Ouyang M, 2012</text>
<text class="t" x="225" y="240">Little R, 2002</text>
<text class="t" x="143" y="242">Nan C, 2013</text>
<text class="tl" x="325" y="243">Bigger John E, 2009</text>
<text class="t" x="273" y="247">Permann M, 2007</text>
<text class="t" x="117" y="250">Ouyang M, 2013</text>
<text class="t" x="193" y="250">Rigole T, 2006</text>
<text class="t" x="83" y="259">Brown T, 2004</text>
<text class="t" x="247" y="257">Permann M, 2007</text>
<text class="t" x="163" y="261">Panzieri S, 2004</text>
<text class="t" x="218" y="270">Pye G, 2006</text>
<text class="t" x="140" y="271">Rigole T, 2006</text>
<text class="t" x="273" y="275">Lave L, 2005</text>
<text class="t" x="192" y="279">Nan C, 2011</text>
<text class="t" x="108" y="282">Panzieri S, 2005</text>
<text class="tl" x="338" y="283" style="font-size:9px">Albert R, 2000</text>
<text class="t" x="243" y="290">Dobson I, 2007</text>
<text class="t" x="162" y="290">Leclaire R, 2007</text>
<text class="t" x="217" y="300">Nurre S, 2010</text>
<text class="t" x="133" y="300">Nozick L, 2005</text>
<text class="t" x="273" y="310">Hollnagel E, 2006</text>
<text class="t" x="183" y="310">Lee E, 2007</text>
<text class="t" x="160" y="320">Ouyang M, 2009</text>
<text class="t" x="238" y="323">Cohen R, 2001</text>
<text class="t" x="205" y="334">Cohen R, 2000</text>
<text class="t" x="328" y="326" style="font-size:9.5px">Holling C, 1973</text>
<text class="tl" x="612" y="148" style="font-size:6.5px">Martin C, 2010</text>
<text class="tl" x="498" y="325" style="font-size:6.5px">Frosch R, 1989</text>
<text class="t" x="347" y="389">Fiksel J, 2003</text>
<text class="t" x="407" y="391">Lowe E, 1995</text>
<text class="t" x="358" y="400">Sterr T, 2004</text>
<text class="t" x="398" y="410">Watts D, 1998</text>
<text class="t" x="472" y="398">Korhonen J, 2001</text>
<text class="t" x="258" y="390">Consoli F, 1993</text>
<text class="t" x="282" y="412">Holling C, 1996</text>
<text class="t" x="432" y="423">Ehrenfeld J, 2002</text>
<text class="t" x="484" y="422">Bansal P, 2009</text>
<text class="t" x="330" y="428">Graedel T, 1996</text>
<text class="t" x="443" y="436">Pimm S, 1984</text>
<text class="t" x="392" y="435">Ashton W, 2008</text>
<text class="t" x="250" y="432">Beck M, 1996</text>
<text class="t" x="424" y="450">Costanza R, 1997</text>
<text class="t" x="492" y="447">Korhonen J, 2008</text>
<text class="t" x="376" y="448">Walker B, 2004</text>
<text class="t" x="313" y="456">Gunderson L, 2002</text>
<text class="t" x="484" y="458">Baas L, 2004</text>
<text class="t" x="390" y="461">Hardy C, 2002</text>
<text class="t" x="325" y="473">Holling C, 1986</text>
<text class="t" x="424" y="472">Chertow M, 2000</text>
<text class="t" x="415" y="487">Gibbs D, 2009</text>
<text class="t" x="470" y="495">Holling C, 1996</text>
<text class="t" x="383" y="496">Holling C, 2002</text>
<text class="t" x="308" y="500">Harrison B, 1996</text>
<text class="t" x="366" y="507">Holling C, 2001</text>
<text class="t" x="332" y="523">Berkes F, 1998</text>
<text class="t" x="478" y="526">Wackernagel M, 2002</text>
<text class="t" x="153" y="493">Agudelo-Vera C, 2011</text>
<text class="tl" x="610" y="672" style="font-size:10.5px">Carpenter S, 2001</text>
<text class="t" x="740" y="715">Darlington T, 2009</text>
<text class="t" x="690" y="734">Fao, 2001</text>
<text class="t" x="783" y="747">Minore D, 1984</text>
<text class="t" x="640" y="753">Iea International Energy A, 2004</text>
<text class="t" x="730" y="769">Fao, 1996</text>
<text class="t" x="592" y="776">Zweibel K, 2004</text>
<text class="t" x="824" y="781">Adler P, 2007</text>
<text class="t" x="682" y="790">Vanderzaag P, 2006</text>
<text class="t" x="916" y="793">Pearce F, 2006</text>
<text class="t" x="538" y="796">Daily G, 2009</text>
<text class="t" x="775" y="801">Kerns B, 2004</text>
<text class="t" x="632" y="810">Lehmkuhl J, 2007</text>
<text class="t" x="868" y="814">Fagan B, 2008</text>
<text class="t" x="722" y="822">Gerbens-Leenes P, 2009</text>
<text class="t" x="488" y="823">Warner M, 2009</text>
<text class="t" x="959" y="823">Ohlstrom M, 2001</text>
<text class="t" x="583" y="832">Calder I, 2000</text>
<text class="t" x="817" y="834">Diamond J, 2005</text>
<text class="t" x="675" y="845">White S, 1998</text>
<text class="t" x="910" y="846">Rigdon P, 2007</text>
<text class="t" x="532" y="852">Pimentel D, 2005</text>
<text class="t" x="767" y="852">Vogt K, 2009</text>
<text class="t" x="624" y="864">Khalik A, 2006</text>
<text class="t" x="860" y="864">Spatari S, 2005</text>
<text class="t" x="718" y="875">Karr J, 1991</text>
<text class="t" x="482" y="877">Hessburg P, 2005</text>
<text class="t" x="953" y="877">Machlis G, 1997</text>
<text class="t" x="576" y="885">Firbank L, 2008</text>
<text class="t" x="809" y="885">Wahlund B, 2004</text>
<text class="t" x="668" y="895">Layton J, 2009</text>
<text class="t" x="903" y="898">Folke C, 2002</text>
<text class="t" x="760" y="905">Strahm B, 2005</text>
<text class="t" x="526" y="906">Blanco-Canqui H, 2009</text>
<text class="t" x="995" y="909">Panish D, 2005</text>
<text class="t" x="617" y="915">Wu M, 2006</text>
<text class="t" x="853" y="918">Searchinger T, 2008</text>
<text class="t" x="712" y="929">Doty S, 2008</text>
<text class="t" x="472" y="929">Hendrickson C, 1998</text>
<text class="t" x="943" y="929">Shapouri H, 2003</text>
<text class="t" x="568" y="937">Humphreys D, 2008</text>
<text class="t" x="805" y="938">Pimentel D, 2005</text>
<text class="t" x="661" y="950">Adger W, 2000</text>
<text class="t" x="895" y="952">Lewandowski I, 2006</text>
<text class="t" x="756" y="957">Hoekstra A, 2002</text>
<text class="t" x="518" y="959">Raghu S, 2006</text>
<text class="t" x="987" y="964">D'Arrigo R, 2008</text>
<text class="t" x="612" y="968">Vogt Kristiina A, 2002</text>
<text class="t" x="843" y="971">International Energy Agency, 2007</text>
<text class="t" x="702" y="981">Ragauskas A, 2006</text>
<text class="t" x="468" y="984">Ahlvik P, 2008</text>
<text class="t" x="937" y="984">Hoekstra A, 2007</text>
<text class="t" x="562" y="992">Patelweynand T, 2000</text>
<text class="t" x="797" y="994">Nelson D, 2007</text>
<text class="t" x="1028" y="996">Mullan-Crain C, 2009</text>
<text class="t" x="655" y="1002">Barney J, 2008</text>
<text class="t" x="885" y="1005">Perezgarcia J, 1995</text>
<text class="t" x="513" y="1012">Mead D, 2006</text>
<text class="t" x="982" y="1014">Nrel, 1995</text>
<text class="t" x="745" y="1015">Vogt K, 1999</text>
<text class="t" x="605" y="1024">Cooper Joyce S, 2003</text>
<text class="t" x="838" y="1026">Graedel T, 1997</text>
<text class="t" x="460" y="1034">Holle B, 2005</text>
<text class="t" x="932" y="1035">Savenije H, 2002</text>
<text class="t" x="693" y="1035">Anderson J, 1991</text>
<text class="t" x="785" y="1044">Diefenderfer H, 2009</text>
<text class="t" x="554" y="1045">Kim S, 2005</text>
<text class="t" x="650" y="1056">Castanheira E, 2006</text>
<text class="t" x="882" y="1059">Ekbom T, 2003</text>
<text class="t" x="505" y="1066">Halpern B, 2008</text>
<text class="t" x="740" y="1068">Carlson S, 2009</text>
<text class="t" x="973" y="1069">Oasmaa A, 2003</text>
<text class="t" x="598" y="1076">Halpern B, 2008</text>
<text class="t" x="832" y="1079">Hammond G, 2008</text>
<text class="t" x="455" y="1088">Pier, 2005</text>
<text class="t" x="691" y="1088">Who, 2007</text>
<text class="t" x="923" y="1091">Singh N, 2006</text>
<text class="t" x="548" y="1096">Zhang S, 2009</text>
<text class="t" x="783" y="1100">Arrow K, 1996</text>
<text class="t" x="640" y="1108">Sprunt E, 2006</text>
<text class="t" x="875" y="1109">Ipcc, 2003</text>
<text class="t" x="500" y="1119">Mack R, 2000</text>
<text class="t" x="968" y="1119">Vogt K, 2007</text>
<text class="t" x="732" y="1120">Makinen T, 2003</text>
<text class="t" x="820" y="1130">Afpa, 2004</text>
<text class="t" x="592" y="1130">Nilsson S, 1995</text>
<text class="t" x="685" y="1140">Davis S, 2008</text>
<text class="t" x="917" y="1142">Fthenakis V, 2004</text>
<text class="t" x="542" y="1150">Schindler J, 2006</text>
<text class="t" x="775" y="1151">Vogt K, 2008</text>
<text class="t" x="633" y="1161">Giampietro M, 2006</text>
<text class="t" x="869" y="1164">Wang M, 2001</text>
<text class="t" x="727" y="1172">Lewis J, 2005</text>
<text class="t" x="962" y="1175">Guoxin H, 2009</text>
<text class="t" x="587" y="1182">Folke C, 2006</text>
<text class="t" x="818" y="1185">Patzek T, 2004</text>
<text class="t" x="677" y="1192">Caron J, 1996</text>
<text class="t" x="911" y="1196">Pier C, 2005</text>
<text class="t" x="536" y="1205">Parrish D, 2005</text>
<text class="t" x="770" y="1205">Hartemink A, 2008</text>
<text class="t" x="628" y="1215">Sticklen M, 2006</text>
<text class="t" x="864" y="1217">Kinoshita T, 2009</text>
<text class="t" x="720" y="1226">Fthenakis V, 2006</text>
<text class="t" x="579" y="1232">Ohlstrom M, 2001</text>
<text class="t" x="813" y="1238">Upadhye R, 2007</text>
<text class="t" x="672" y="1248">Barrett G, 2000</text>
<text class="t" x="765" y="1258">Groom M, 2008</text>
<text class="t" x="622" y="1268">Or F, 2006</text>
<text class="t" x="713" y="1278">Epa, 2007</text>
</g>

<g id="titles">
<text class="ti" x="390" y="32" textLength="133" lengthAdjust="spacingAndGlyphs">Community 2</text>
<text class="ti" x="390" y="74" textLength="221" lengthAdjust="spacingAndGlyphs">Risk and Resilience in</text>
<text class="ti" x="391" y="114" textLength="174" lengthAdjust="spacingAndGlyphs">Technical Systems</text>
<text class="ti" x="703" y="218" textLength="132" lengthAdjust="spacingAndGlyphs">Community 5</text>
<text class="ti" x="705" y="257" textLength="200" lengthAdjust="spacingAndGlyphs">Agricultural Systems</text>
<text class="ti" x="627" y="439" textLength="133" lengthAdjust="spacingAndGlyphs">Community 3</text>
<text class="ti" x="628" y="480" textLength="177" lengthAdjust="spacingAndGlyphs">Industrial Ecology</text>
<text class="ti" x="627" y="522" textLength="140" lengthAdjust="spacingAndGlyphs">and Resilience</text>
<text class="ti" x="228" y="591" textLength="134" lengthAdjust="spacingAndGlyphs">Community 4</text>
<text class="ti" x="228" y="632" textLength="144" lengthAdjust="spacingAndGlyphs">Urban Systems</text>
<text class="ti" x="929" y="1287" textLength="129" lengthAdjust="spacingAndGlyphs">Community 1</text>
<text class="ti" x="933" y="1325" textLength="166" lengthAdjust="spacingAndGlyphs">Topically Diverse</text>
</g>
</svg>
